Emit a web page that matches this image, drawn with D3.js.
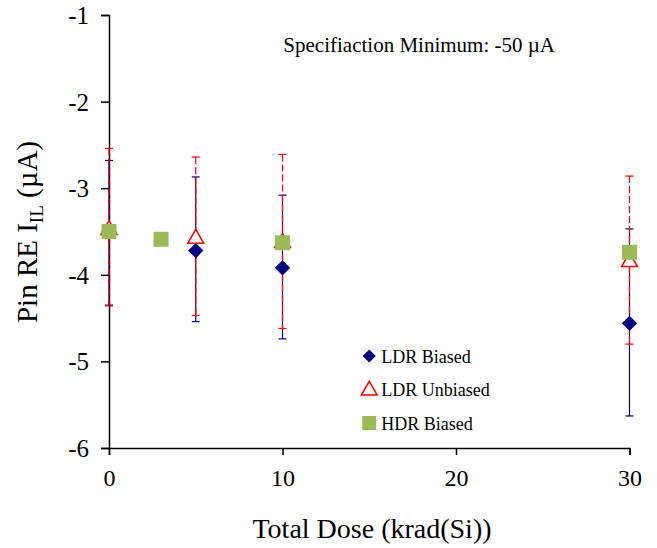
<!DOCTYPE html>
<html>
<head>
<meta charset="utf-8">
<script src="https://cdn.jsdelivr.net/npm/d3@7"></script>
<style>
  body { margin: 0; background: #fff; }
  text { font-family: "Liberation Serif", "Times New Roman", serif; fill: #000; }
</style>
</head>
<body>
<div class="chart"></div>
<script>
// data
const ldrBiasedDose = [0, 5, 10, 30]
const ldrBiasedMean = [-3.5, -3.72, -3.92, -4.56]
const ldrBiasedHi = [-2.68, -2.87, -3.08, -3.47]
const ldrBiasedLo = [-4.35, -4.54, -4.74, -5.63]

const ldrUnbiasedDose = [0, 5, 10, 30]
const ldrUnbiasedMean = [-3.47, -3.57, -3.62, -3.84]
const ldrUnbiasedHi = [-2.54, -2.64, -2.61, -2.86]
const ldrUnbiasedLo = [-4.36, -4.47, -4.62, -4.8]

const hdrDose = [0, 3, 10, 30]
const hdrMean = [-3.5, -3.59, -3.63, -3.74]

const xTicks = [0, 10, 20, 30]
const yTicks = [-1, -2, -3, -4, -5, -6]
const legendLabels = ['LDR Biased', 'LDR Unbiased', 'HDR Biased']

const fullWidth = 657, fullHeight = 548
const margin = { top: 15, right: 27, bottom: 100, left: 109 }
const width = fullWidth - margin.left - margin.right
const height = fullHeight - margin.top - margin.bottom
const serif = '"Liberation Serif", "Times New Roman", serif'

const svg = d3.select('.chart').append('svg')
    .attr('width', fullWidth)
    .attr('height', fullHeight)
const g = svg.append('g').attr('transform', `translate(${margin.left}, ${margin.top})`)

const xScale = d3.scaleLinear().domain([0, 30]).range([0, width - 0.5])
const yScale = d3.scaleLinear().domain([-6, -1]).range([height, 0])

// axes
const gY = g.append('g')
    .attr('font-family', serif)
    .call(d3.axisLeft(yScale).tickValues(yTicks).tickSize(8).tickPadding(12).tickFormat(d => String(d)))
gY.selectAll('text').style('font-size', '25px').attr('dy', '0.34em')

const gX = g.append('g')
    .attr('font-family', serif)
    .attr('transform', `translate(0, ${height})`)
    .call(d3.axisBottom(xScale).tickValues(xTicks).tickSize(7).tickSizeOuter(7).tickPadding(14))
gX.selectAll('text').style('font-size', '24px')
g.selectAll('.domain, .tick line').style('stroke', '#000').style('stroke-width', 1.5)

// error bars
function errorBars(dose, hi, lo, colour, dash) {
    const sel = g.append('g')
    dose.forEach((d, i) => {
        const x = xScale(d)
        sel.append('line')
            .attr('x1', x).attr('x2', x)
            .attr('y1', yScale(hi[i])).attr('y2', yScale(lo[i]))
            .style('stroke', colour).style('stroke-width', 1.2)
            .style('stroke-dasharray', dash)
        ;[hi[i], lo[i]].forEach(v => {
            sel.append('line')
                .attr('x1', x - 4).attr('x2', x + 4)
                .attr('y1', yScale(v)).attr('y2', yScale(v))
                .style('stroke', colour).style('stroke-width', 1.2)
        })
    })
}
errorBars(ldrBiasedDose, ldrBiasedHi, ldrBiasedLo, '#000080', null)
errorBars(ldrUnbiasedDose, ldrUnbiasedHi, ldrUnbiasedLo, '#ff0000', '7,3')

// markers
const diamond = d3.symbol().type(d3.symbolDiamond2).size(150)
const triangle = d3.symbol().type(d3.symbolTriangle).size(110)

g.selectAll('.ldrb').data(ldrBiasedDose).enter().append('path')
    .attr('transform', (d, i) => `translate(${xScale(d)}, ${yScale(ldrBiasedMean[i])})`)
    .attr('d', diamond)
    .style('fill', '#000080')

g.selectAll('.ldru').data(ldrUnbiasedDose).enter().append('path')
    .attr('transform', (d, i) => `translate(${xScale(d)}, ${yScale(ldrUnbiasedMean[i]) + 1})`)
    .attr('d', triangle)
    .style('fill', '#fff').style('stroke', '#ff0000').style('stroke-width', 1.5)

g.selectAll('.hdr').data(hdrDose).enter().append('rect')
    .attr('x', d => xScale(d) - 7.5)
    .attr('y', (d, i) => yScale(hdrMean[i]) - 7.5)
    .attr('width', 15).attr('height', 15)
    .style('fill', '#9bbb59')

// annotation
g.append('text')
    .attr('x', xScale(10.05)).attr('y', 37)
    .style('font-size', '21px')
    .text('Specifiaction Minimum: -50 \u00b5A')

// legend
const legend = g.append('g').attr('transform', `translate(${xScale(15)}, 341)`)
legendLabels.forEach((lab, i) => {
    const row = legend.append('g').attr('transform', `translate(0, ${i * 33.5})`)
    if (i === 0) row.append('path').attr('d', diamond.size(110)).style('fill', '#000080')
    if (i === 1) row.append('path').attr('d', triangle).attr('transform', 'translate(0,1)')
        .style('fill', '#fff').style('stroke', '#ff0000').style('stroke-width', 1.5)
    if (i === 2) row.append('rect').attr('x', -7).attr('y', -7).attr('width', 14).attr('height', 14)
        .style('fill', '#9bbb59')
    row.append('text').attr('x', 12).attr('y', 6.5)
        .style('font-size', '18px')
        .text(lab)
})

// axis titles
svg.append('text')
    .attr('x', 372).attr('y', 538)
    .attr('text-anchor', 'middle')
    .style('font-size', '28px')
    .text('Total Dose (krad(Si))')

const yTitle = svg.append('text')
    .attr('transform', `translate(37, 232) rotate(-90)`)
    .attr('text-anchor', 'middle')
    .style('font-size', '29px')
yTitle.append('tspan').text('Pin RE I')
yTitle.append('tspan').attr('dy', 6).style('font-size', '19px').text('IL')
yTitle.append('tspan').attr('dy', -6).text(' (\u00b5A)')
</script>
</body>
</html>
